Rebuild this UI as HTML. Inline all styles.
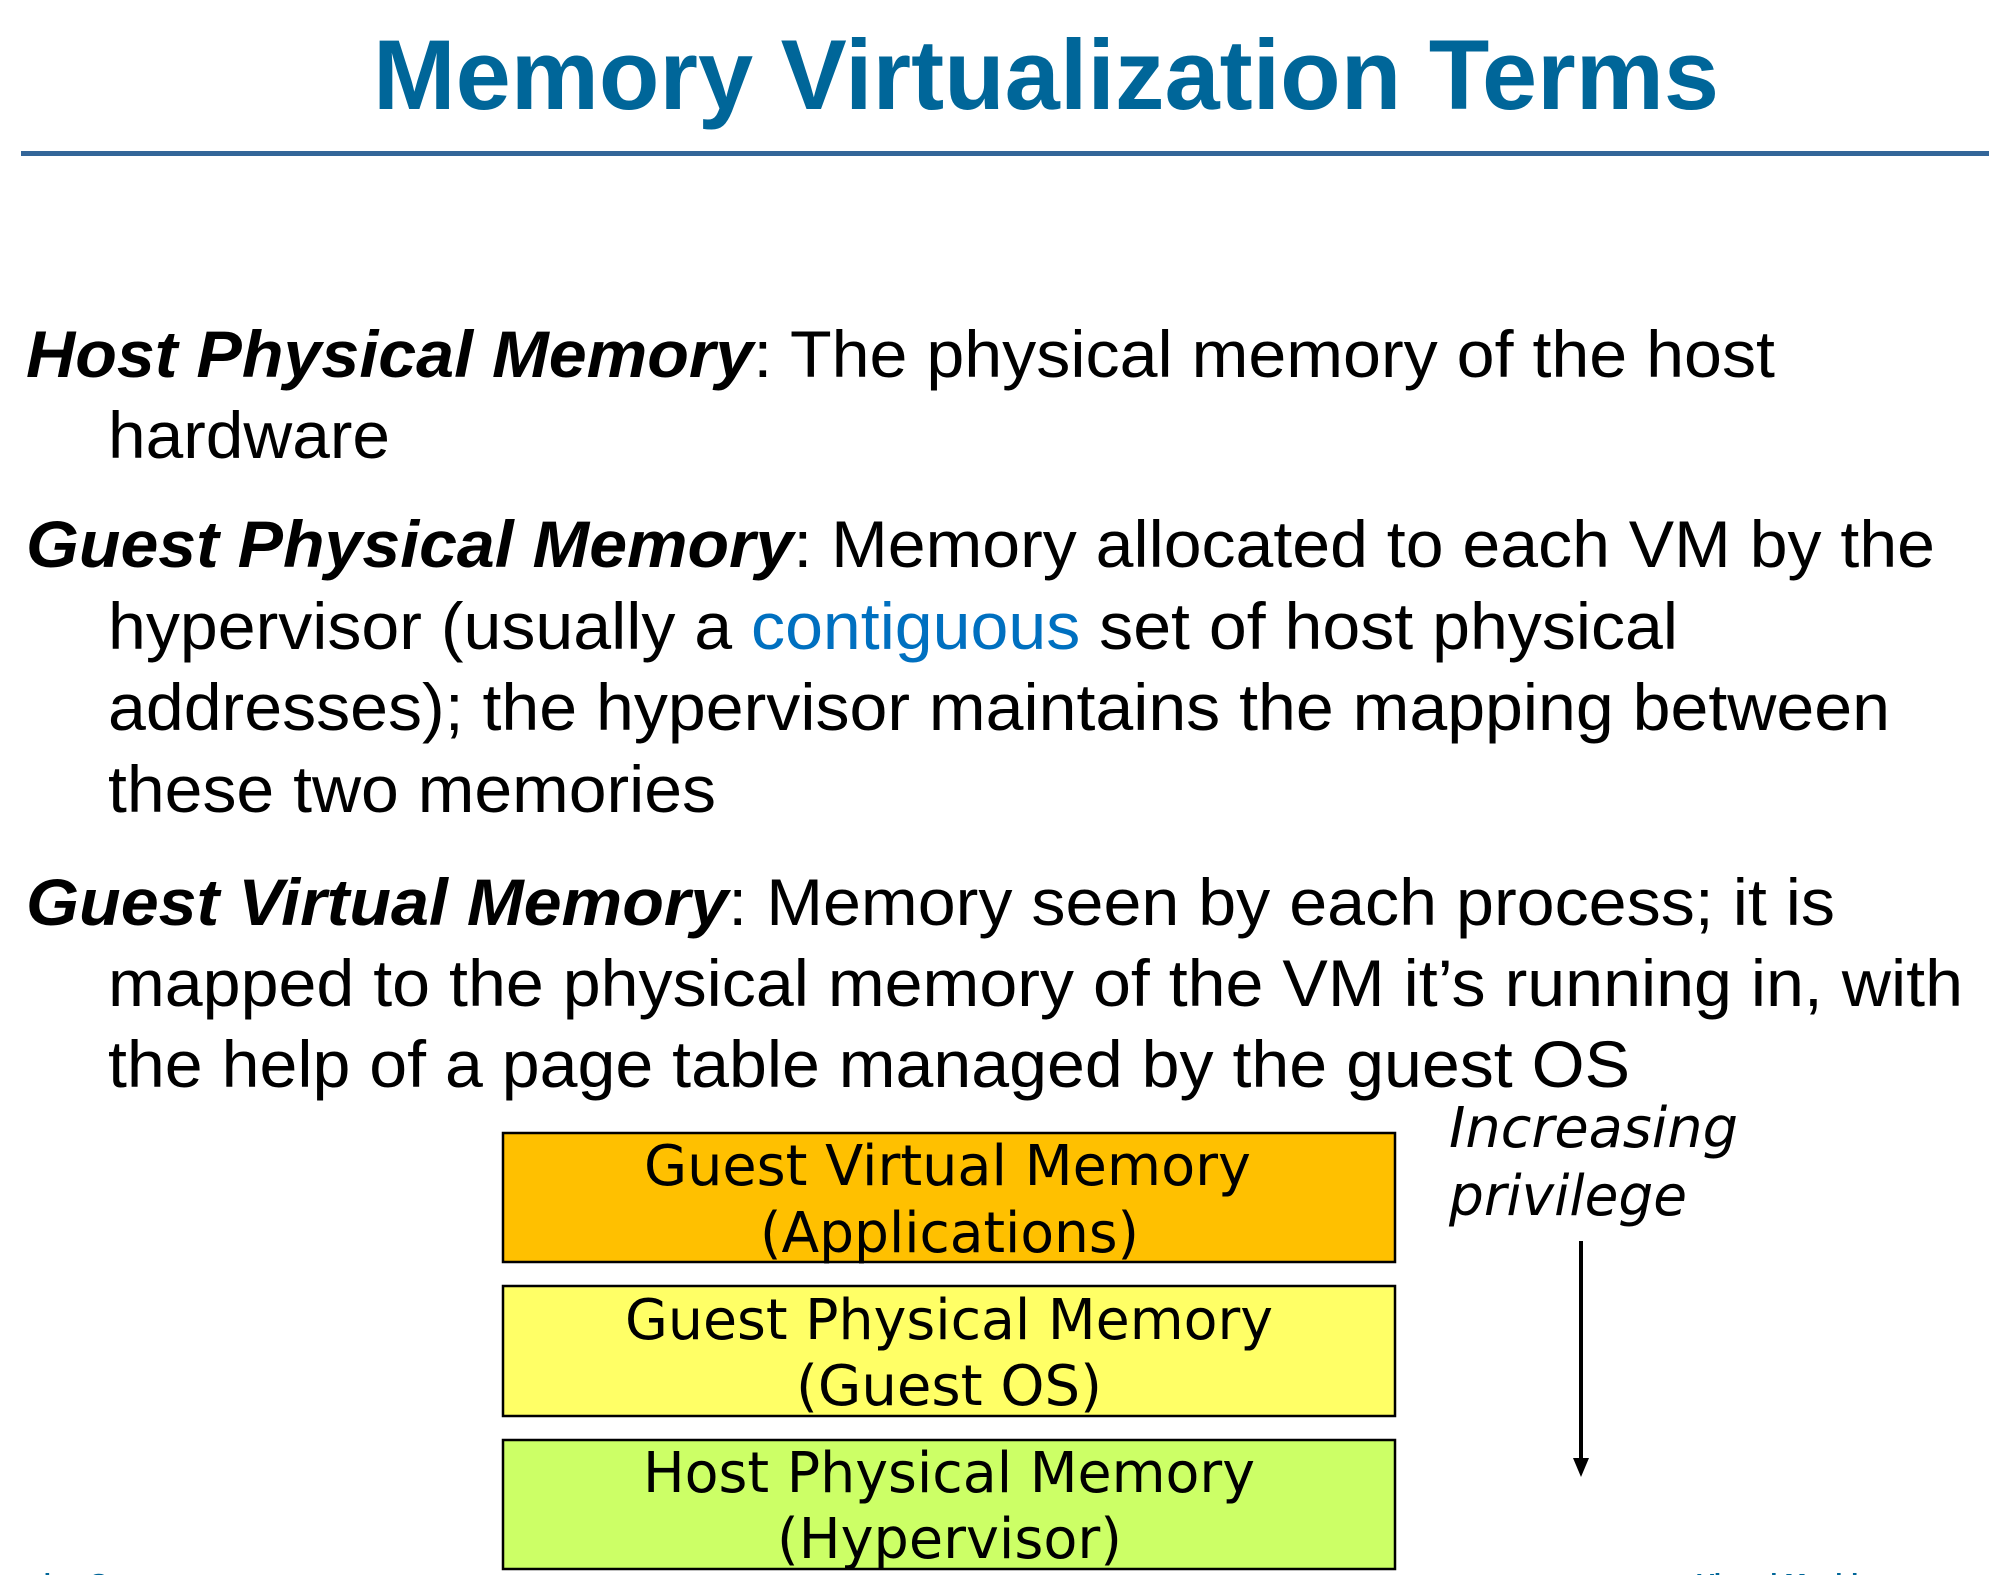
<!DOCTYPE html>
<html><head><meta charset="utf-8"><style>
html,body{margin:0;padding:0;background:#fff;}
svg{display:block;}
</style></head><body>
<svg width="2016" height="1575" viewBox="0 0 2016 1575" xmlns="http://www.w3.org/2000/svg">
<rect width="2016" height="1575" fill="#fff"/>
<text x="373" y="109" font-family="Liberation Sans, sans-serif" font-weight="bold" font-size="99" fill="#006699" textLength="1346" lengthAdjust="spacingAndGlyphs">Memory Virtualization Terms</text>
<rect x="21" y="151" width="1968" height="5" fill="#336699"/>
<g font-family="Liberation Sans, sans-serif" font-size="66" fill="#000">
<text x="26" y="377" textLength="1749" lengthAdjust="spacingAndGlyphs"><tspan font-weight="bold" font-style="italic">Host Physical Memory</tspan>: The physical memory of the host</text>
<text x="108" y="458" textLength="282" lengthAdjust="spacingAndGlyphs">hardware</text>
<text x="26" y="567" textLength="1909" lengthAdjust="spacingAndGlyphs"><tspan font-weight="bold" font-style="italic">Guest Physical Memory</tspan>: Memory allocated to each VM by the</text>
<text x="108" y="649" textLength="1570" lengthAdjust="spacingAndGlyphs">hypervisor (usually a <tspan fill="#0070C0">contiguous</tspan> set of host physical</text>
<text x="108" y="730" textLength="1782" lengthAdjust="spacingAndGlyphs">addresses); the hypervisor maintains the mapping between</text>
<text x="108" y="812" textLength="608" lengthAdjust="spacingAndGlyphs">these two memories</text>
<text x="26" y="925" textLength="1809" lengthAdjust="spacingAndGlyphs"><tspan font-weight="bold" font-style="italic">Guest Virtual Memory</tspan>: Memory seen by each process; it is</text>
<text x="108" y="1006" textLength="1855" lengthAdjust="spacingAndGlyphs">mapped to the physical memory of the VM it’s running in, with</text>
<text x="108" y="1087" textLength="1522" lengthAdjust="spacingAndGlyphs">the help of a page table managed by the guest OS</text>
</g>
<rect x="503" y="1133" width="892" height="129" fill="#FFC000" stroke="#000" stroke-width="2.5"/>
<rect x="503" y="1286" width="892" height="130" fill="#FFFF66" stroke="#000" stroke-width="2.5"/>
<rect x="503" y="1440" width="892" height="129" fill="#CCFF66" stroke="#000" stroke-width="2.5"/>
<g font-family="DejaVu Sans, sans-serif" font-size="56" fill="#000">
<text x="644" y="1185" textLength="607" lengthAdjust="spacingAndGlyphs">Guest Virtual Memory</text>
<text x="760" y="1252" textLength="379" lengthAdjust="spacingAndGlyphs">(Applications)</text>
<text x="625" y="1339" textLength="648" lengthAdjust="spacingAndGlyphs">Guest Physical Memory</text>
<text x="796" y="1405" textLength="306" lengthAdjust="spacingAndGlyphs">(Guest OS)</text>
<text x="643" y="1492" textLength="612" lengthAdjust="spacingAndGlyphs">Host Physical Memory</text>
<text x="777" y="1558" textLength="345" lengthAdjust="spacingAndGlyphs">(Hypervisor)</text>
<text x="1449" y="1147" font-style="italic" textLength="289" lengthAdjust="spacingAndGlyphs">Increasing</text>
<text x="1449" y="1215" font-style="italic" textLength="238" lengthAdjust="spacingAndGlyphs">privilege</text>
</g>
<line x1="1581" y1="1241" x2="1581" y2="1460" stroke="#000" stroke-width="4"/>
<polygon points="1573,1458 1589,1458 1581,1477" fill="#000"/>
<g font-family="Liberation Sans, sans-serif" font-weight="bold" font-size="26" fill="#006699">
<text x="-40" y="1592">Operating Systems</text>
<text x="1697" y="1592">Virtual Machines</text>
</g>
</svg>
</body></html>
